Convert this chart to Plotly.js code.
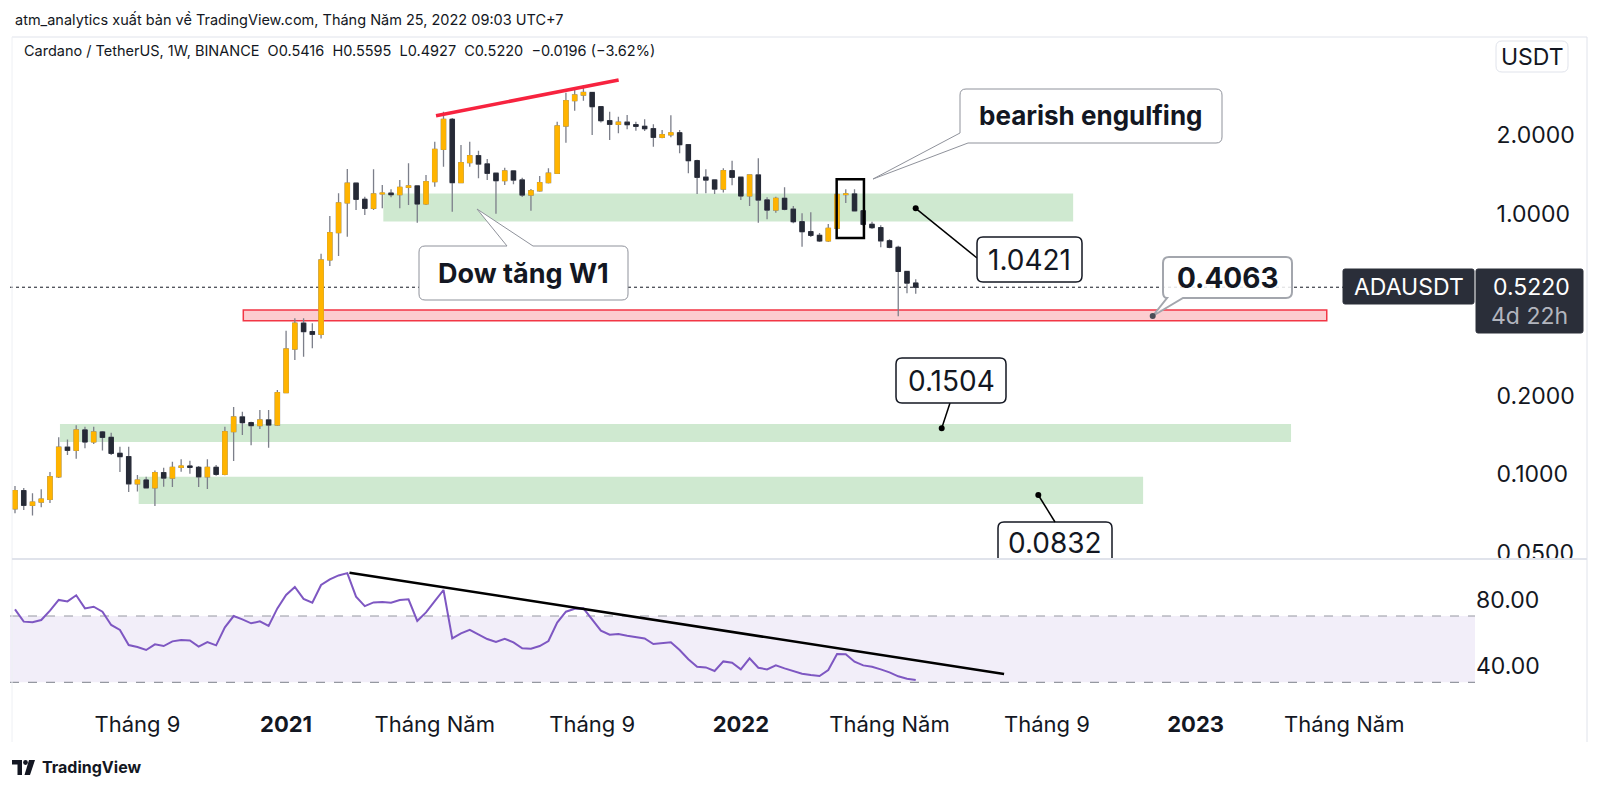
<!DOCTYPE html>
<html><head><meta charset="utf-8">
<script src="https://cdn.plot.ly/plotly-3.0.1.min.js"></script>
<style>html,body{margin:0;padding:0;background:#fff;}#chart{width:1600px;height:791px;}</style>
</head><body><div id="chart"></div>
<script>
// ---------- DATA (weekly ADA/USDT, Binance) ----------
const firstWeek = '2020-06-01';
const open  = [0.0736,0.0864,0.0759,0.0781,0.0800,0.0977,0.1268,0.1235,0.1477,0.1329,0.1451,0.1384,0.1202,0.1167,0.0918,0.0949,0.0886,0.1013,0.0966,0.1062,0.1074,0.1062,0.0977,0.1062,0.0998,0.1455,0.1657,0.1576,0.1535,0.1614,0.1544,0.2054,0.3023,0.3797,0.3525,0.3443,0.6642,0.8455,1.100,1.310,1.136,1.049,1.191,1.199,1.183,1.263,1.278,1.090,1.327,1.767,2.304,1.316,1.570,1.670,1.552,1.430,1.339,1.459,1.347,1.180,1.225,1.316,1.430,2.172,2.716,2.856,2.920,2.576,2.276,2.205,2.245,2.197,2.166,2.120,1.965,2.010,2.045,1.841,1.598,1.380,1.347,1.244,1.462,1.380,1.170,1.408,1.129,1.033,1.146,1.040,0.9316,0.853,0.826,0.786,0.879,1.185,1.190,1.026,0.9105,0.884,0.787,0.743,0.600,0.5416];
const high  = [0.0900,0.0885,0.0844,0.0874,0.1019,0.1385,0.1357,0.1540,0.1521,0.1521,0.1464,0.1442,0.1275,0.1275,0.0992,0.0977,0.1032,0.1058,0.1116,0.1140,0.1126,0.1074,0.1140,0.1084,0.1521,0.1809,0.1737,0.1590,0.1763,0.1763,0.2104,0.3550,0.3970,0.3970,0.3797,0.7020,0.9800,1.199,1.484,1.314,1.162,1.480,1.289,1.241,1.347,1.561,1.285,1.408,1.890,2.464,2.331,1.836,1.890,1.745,1.622,1.438,1.502,1.466,1.374,1.245,1.396,1.494,2.256,2.915,3.004,3.121,2.940,2.590,2.464,2.357,2.393,2.256,2.304,2.205,2.096,2.387,2.096,1.850,1.610,1.481,1.352,1.494,1.598,1.390,1.415,1.632,1.156,1.162,1.263,1.070,1.004,1.013,0.843,0.913,1.195,1.241,1.241,1.033,0.932,0.902,0.797,0.753,0.602,0.5595];
const low   = [0.0707,0.0728,0.0694,0.0746,0.0774,0.0966,0.1184,0.1146,0.1256,0.1306,0.1231,0.1184,0.1019,0.0853,0.0858,0.0881,0.0754,0.0894,0.0892,0.1022,0.1004,0.0892,0.0877,0.0986,0.0990,0.1123,0.1413,0.1290,0.1491,0.1263,0.1530,0.2048,0.2743,0.2825,0.3042,0.3314,0.6297,0.6882,0.8164,1.033,0.9886,1.033,1.049,1.156,1.049,1.080,0.9235,1.080,1.270,1.515,1.018,1.312,1.515,1.367,1.347,1.000,1.289,1.297,1.160,1.026,1.215,1.305,1.420,1.874,2.487,2.716,2.005,2.240,1.919,2.036,2.110,2.083,2.078,1.809,1.950,1.965,1.706,1.429,1.191,1.199,1.191,1.206,1.285,1.129,1.070,0.9235,0.9516,1.009,1.030,0.9200,0.747,0.814,0.779,0.779,0.870,1.100,1.020,0.897,0.873,0.743,0.736,0.4036,0.495,0.4927];
const close = [0.0864,0.0759,0.0781,0.0802,0.0977,0.1268,0.1235,0.1477,0.1329,0.1451,0.1384,0.1202,0.1167,0.0918,0.0949,0.0886,0.1013,0.0966,0.1062,0.1074,0.1062,0.0977,0.1062,0.0998,0.1455,0.1657,0.1576,0.1535,0.1614,0.1544,0.2054,0.3023,0.3797,0.3525,0.3443,0.6642,0.8455,1.100,1.310,1.136,1.049,1.191,1.199,1.183,1.263,1.278,1.090,1.327,1.767,2.304,1.316,1.570,1.670,1.552,1.430,1.339,1.459,1.347,1.180,1.225,1.316,1.430,2.172,2.716,2.856,2.920,2.576,2.276,2.205,2.245,2.197,2.166,2.120,1.965,2.010,2.045,1.841,1.598,1.380,1.347,1.244,1.462,1.380,1.170,1.408,1.129,1.033,1.146,1.040,0.9316,0.853,0.826,0.786,0.879,1.185,1.190,1.026,0.9105,0.884,0.787,0.743,0.600,0.5416,0.5220];
const rsi   = [74.0,66.6,66.2,67.6,73.2,79.7,78.8,82.5,74.6,75.6,72.6,64.6,61.6,52.5,51.3,49.5,52.9,51.9,54.7,55.5,55.3,51.5,54.3,52.3,63.2,70.0,68.0,65.6,66.8,64.0,74.6,82.7,87.5,80.3,78.0,88.7,92.1,94.5,95.9,81.7,76.0,78.2,78.4,78.0,79.7,80.1,67.0,72.2,79.0,85.7,56.5,59.5,61.6,58.9,56.1,54.3,56.3,54.1,50.5,50.3,51.9,54.9,66.0,72.6,74.4,74.6,67.6,61.2,58.7,59.1,58.1,57.3,56.5,53.1,53.7,54.1,49.5,43.9,39.4,39.0,36.8,42.6,41.8,37.8,44.5,38.8,37.8,40.2,38.4,36.6,35.2,34.4,33.8,37.4,47.1,46.9,42.4,40.2,39.4,37.8,36.0,33.6,32.2,31.4];

const xTickDates = ['2020-09-07','2021-01-04','2021-05-03','2021-09-06','2022-01-03','2022-05-02','2022-09-05','2023-01-02','2023-05-01'];
const xTickText  = ['Tháng 9','<b>2021</b>','Tháng Năm','Tháng 9','<b>2022</b>','Tháng Năm','Tháng 9','<b>2023</b>','Tháng Năm'];
const priceTicks = [0.05,0.1,0.2,1,2];
const priceTickText = ['0.0500','0.1000','0.2000','1.0000','2.0000'];
const rsiTicks = [40,80];
const rsiTickText = ['40.00','80.00'];

// support / resistance zones
const zoneStart = ['2021-03-22 20:00','2020-07-07','2020-09-08'];
const zoneEnd   = ['2022-09-26','2023-03-19 10:00','2022-11-21'];
const zoneTop   = [1.196,0.1557,0.0977];
const zoneBottom= [0.933,0.1328,0.0767];
const redZone = {start:'2020-11-30 18:00', end:'2023-04-17', top:0.4268, bottom:0.3883};
const lastPrice = 0.5220;
const wedgeLine = {x:['2021-05-04','2021-09-27 05:00'], y:[2.378,3.262]};
const engulfBox = {x:['2022-03-20 17:00','2022-04-11 13:00'], y:[0.8067,1.355]};
const rsiTrend = {x:['2021-02-23 18:00','2022-08-01 17:00'], y:[96.1,35.0]};

// ---------- BUILD ----------
const DAY = 864e5;
const t0 = Date.parse(firstWeek+'T00:00:00Z');
const dates = open.map((_,i)=> new Date(t0 + i*7*DAY).toISOString().slice(0,10));
const bodyHigh = open.map((o,i)=>Math.max(o,close[i]));
const bodyLow  = open.map((o,i)=>Math.min(o,close[i]));

const UP='#ffb400', DN='#262a36', WICK='#7c7f8a';
const FONT='Inter, Roboto, "Noto Sans", sans-serif';
const TXT='#131722';

const PL=10, PR=1475, PT=38, PB=692;
const X = px => (px-PL)/(PR-PL);
const Y = py => (PB-py)/(PB-PT);
function path(cmds){
  return cmds.map(c=>{
    if(c[0]==='Z') return 'Z';
    if(c[0]==='Q') return `Q${X(c[1])},${Y(c[2])} ${X(c[3])},${Y(c[4])}`;
    return `${c[0]}${X(c[1])},${Y(c[2])}`;
  }).join(' ');
}
function rrect(x0,y0,x1,y1,r){
  return path([['M',x0+r,y0],['L',x1-r,y0],['Q',x1,y0,x1,y0+r],['L',x1,y1-r],['Q',x1,y1,x1-r,y1],
    ['L',x0+r,y1],['Q',x0,y1,x0,y1-r],['L',x0,y0+r],['Q',x0,y0,x0+r,y0],['Z']]);
}
function pshape(d,line,fill,w){return {type:'path',xref:'paper',yref:'paper',path:d,line:{color:line,width:w},fillcolor:fill,layer:'above'};}
function dot(px,py,r,col){return {type:'circle',xref:'paper',yref:'paper',x0:X(px-r),x1:X(px+r),y0:Y(py+r),y1:Y(py-r),fillcolor:col,line:{color:col,width:0},layer:'above'};}
function seg(x0,y0,x1,y1,col,w){return {type:'line',xref:'paper',yref:'paper',x0:X(x0),y0:Y(y0),x1:X(x1),y1:Y(y1),line:{color:col,width:w},layer:'above'};}
function box(x0,y0,x1,y1,col){return {type:'rect',xref:'paper',yref:'paper',x0:X(x0),x1:X(x1),y0:Y(y1),y1:Y(y0),fillcolor:col,line:{width:0},layer:'above'};}
function txt(px,py,text,size,opts){return Object.assign({xref:'paper',yref:'paper',x:X(px),y:Y(py),text:text,showarrow:false,xanchor:'center',yanchor:'middle',font:{family:FONT,size:size,color:TXT}},opts||{});}

const traces = [
  {type:'candlestick',x:dates,open:open,high:high,low:low,close:close,xaxis:'x',yaxis:'y',
   increasing:{line:{color:WICK,width:1.3},fillcolor:UP},decreasing:{line:{color:WICK,width:1.3},fillcolor:DN},
   whiskerwidth:0,hoverinfo:'skip',showlegend:false},
  {type:'candlestick',x:dates,open:open,high:bodyHigh,low:bodyLow,close:close,xaxis:'x',yaxis:'y',
   increasing:{line:{color:UP,width:1},fillcolor:UP},decreasing:{line:{color:DN,width:1},fillcolor:DN},
   whiskerwidth:0,hoverinfo:'skip',showlegend:false},
  {type:'scatter',mode:'lines',x:dates,y:rsi,xaxis:'x',yaxis:'y2',line:{color:'#7e57c2',width:2},hoverinfo:'skip',showlegend:false}
];

const shapes = [];
for(let k=0;k<zoneTop.length;k++){
  shapes.push({type:'rect',xref:'x',yref:'y',x0:zoneStart[k],x1:zoneEnd[k],y0:zoneBottom[k],y1:zoneTop[k],
    fillcolor:'rgba(76,175,80,0.27)',line:{width:0},layer:'below'});
}
shapes.push({type:'rect',xref:'x',yref:'y',x0:redZone.start,x1:redZone.end,y0:redZone.bottom,y1:redZone.top,
  fillcolor:'rgba(242,54,69,0.25)',line:{color:'#f23645',width:1.5},layer:'below'});
shapes.push({type:'line',xref:'paper',yref:'y',x0:0,x1:X(1343),y0:lastPrice,y1:lastPrice,line:{color:TXT,width:1,dash:'dot'},layer:'below'});
shapes.push({type:'line',xref:'x',yref:'y',x0:wedgeLine.x[0],x1:wedgeLine.x[1],y0:wedgeLine.y[0],y1:wedgeLine.y[1],line:{color:'#f7233f',width:3.5},layer:'above'});
shapes.push({type:'rect',xref:'x',yref:'y',x0:engulfBox.x[0],x1:engulfBox.x[1],y0:engulfBox.y[0],y1:engulfBox.y[1],line:{color:'#000',width:2.5},layer:'above'});
// RSI band
shapes.push({type:'rect',xref:'paper',yref:'y2',x0:0,x1:1,y0:30,y1:70,fillcolor:'rgba(126,87,194,0.1)',line:{width:0},layer:'below'});
shapes.push({type:'line',xref:'paper',yref:'y2',x0:0,x1:1,y0:70,y1:70,line:{color:'#9598a1',width:1.2,dash:'dash'},layer:'below'});
shapes.push({type:'line',xref:'paper',yref:'y2',x0:0,x1:1,y0:30,y1:30,line:{color:'#9598a1',width:1.2,dash:'dash'},layer:'below'});
shapes.push({type:'line',xref:'x',yref:'y2',x0:rsiTrend.x[0],x1:rsiTrend.x[1],y0:rsiTrend.y[0],y1:rsiTrend.y[1],line:{color:'#000',width:2.5},layer:'above'});

// cut the lowest price label at the pane edge, like the reference
shapes.push(box(1476,559,1586,575,'#ffffff'));
// frame
shapes.push(seg(12,37,1587,37,'#e0e3eb',1));
shapes.push(seg(12,37,12,742,'#eef0f4',1));
shapes.push(seg(1587,37,1587,742,'#e0e3eb',1));
shapes.push(seg(12,559,1587,559,'#e0e3eb',2));

// callouts
const GR='#8f929b';
shapes.push(pshape(path([['M',968,143],['L',1216,143],['Q',1222,143,1222,137],['L',1222,95],['Q',1222,89,1216,89],
  ['L',966,89],['Q',960,89,960,95],['L',960,133],['L',873,179],['L',968,143],['Z']]),GR,'#ffffff',1));
shapes.push(pshape(path([['M',425,246],['L',507,246],['L',477,209],['L',533,246],['L',622,246],['Q',628,246,628,252],
  ['L',628,294],['Q',628,300,622,300],['L',425,300],['Q',419,300,419,294],['L',419,252],['Q',419,246,425,246],['Z']]),GR,'#ffffff',1));
// 1.0421
shapes.push(seg(915.7,208.3,977,258,'#000',1.5));
shapes.push(dot(915.7,208.3,3,'#000'));
shapes.push(pshape(rrect(977,237,1082,282,6),TXT,'#ffffff',1.5));
// 0.4063
shapes.push(pshape(path([['M',1169,257],['L',1286,257],['Q',1292,257,1292,263],['L',1292,292],['Q',1292,298,1286,298],
  ['L',1183,298],['L',1152.7,316],['L',1167,298],['Q',1163,298,1163,292],['L',1163,263],['Q',1163,257,1169,257],['Z']]),'#a3a6ad','rgba(255,255,255,0.85)',2));
shapes.push(dot(1152.7,316,3,'#4a4d57'));
// 0.1504
shapes.push(seg(941.7,428.3,950,403,'#000',1.5));
shapes.push(dot(941.7,428.3,3,'#000'));
shapes.push(pshape(rrect(896,358,1006,403,6),TXT,'#ffffff',1.5));
// 0.0832 (cut by pane bottom)
shapes.push(pshape(path([['M',998,558],['L',998,528],['Q',998,522,1004,522],['L',1106,522],['Q',1112,522,1112,528],['L',1112,558]]),TXT,'#ffffff',1.5));
shapes.push(seg(1038.3,495,1055,522,'#000',1.5));
shapes.push(dot(1038.3,495,3,'#000'));
// right side price tags
shapes.push(pshape(rrect(1343,269,1474,304,2),'#2a2e39','#2a2e39',1));
shapes.push(pshape(rrect(1476,269,1583,333,2),'#2a2e39','#2a2e39',1));
shapes.push(pshape(rrect(1496,41,1568,72,6),'#e0e3eb','#ffffff',1));
// TradingView logo
shapes.push(pshape(path([['M',12,760],['L',22,760],['L',22,775],['L',17.5,775],['L',17.5,764.5],['L',12,764.5],['Z']]),TXT,TXT,0));
shapes.push(dot(25.5,762.5,2.4,TXT));
shapes.push(pshape(path([['M',29,760],['L',35,760],['L',30,775],['L',24.5,775],['Z']]),TXT,TXT,0));

const annotations = [
  txt(13,20,'atm_analytics xuất bản về TradingView.com, Tháng Năm 25, 2022 09:03 UTC+7',14.5,{xanchor:'left'}),
  txt(22,51,'Cardano / TetherUS, 1W, BINANCE\u00a0\u00a0O0.5416\u00a0\u00a0H0.5595\u00a0\u00a0L0.4927\u00a0\u00a0C0.5220\u00a0\u00a0−0.0196 (−3.62%)',14.5,{xanchor:'left'}),
  txt(1091,116,'<b>bearish engulfing</b>',26),
  txt(523.5,273,'<b>Dow tăng W1</b>',27),
  txt(1029.5,260,'1.0421',28),
  txt(1227.5,278,'<b>0.4063</b>',28),
  txt(951,381,'0.1504',28),
  txt(1055,543,'0.0832',28),
  txt(1408.5,287,'ADAUSDT',23,{font:{family:FONT,size:23,color:'#ffffff'}}),
  txt(1531,287,'0.5220',23,{font:{family:FONT,size:23,color:'#ffffff'}}),
  txt(1530,316,'4d 22h',23,{font:{family:FONT,size:23,color:'#b2b5be'}}),
  txt(1532,57,'USDT',23),
  txt(40,767,'<b>TradingView</b>',16,{xanchor:'left'})
];

const layout = {
  width:1600,height:791,paper_bgcolor:'#ffffff',plot_bgcolor:'#ffffff',
  margin:{l:PL,r:1600-PR,t:PT,b:791-PB,pad:0},
  showlegend:false,hovermode:false,dragmode:false,
  font:{family:FONT,color:TXT},
  xaxis:{type:'date',range:['2020-05-28','2023-08-13 16:00'],anchor:'y2',rangeslider:{visible:false},
    tickmode:'array',tickvals:xTickDates,ticktext:xTickText,showgrid:false,zeroline:false,showline:false,
    ticks:'outside',ticklen:13,tickcolor:'rgba(0,0,0,0)',tickfont:{family:FONT,size:22,color:TXT}},
  yaxis:{type:'log',domain:[(PB-559)/(PB-PT),1],range:[-1.326,0.6747],side:'right',anchor:'x',
    tickmode:'array',tickvals:priceTicks,ticktext:priceTickText,showgrid:false,zeroline:false,showline:false,
    ticks:'outside',ticklen:16,tickcolor:'rgba(0,0,0,0)',tickfont:{family:FONT,size:23,color:TXT}},
  yaxis2:{domain:[0,(PB-560)/(PB-PT)],range:[24.15,103.8],side:'right',anchor:'x',
    tickmode:'array',tickvals:rsiTicks,ticktext:rsiTickText,showgrid:false,zeroline:false,showline:false,
    ticks:'',ticklen:0,tickfont:{family:FONT,size:23,color:TXT}},
  shapes:shapes,annotations:annotations
};
Plotly.newPlot('chart',traces,layout,{staticPlot:true,displayModeBar:false});
</script></body></html>
